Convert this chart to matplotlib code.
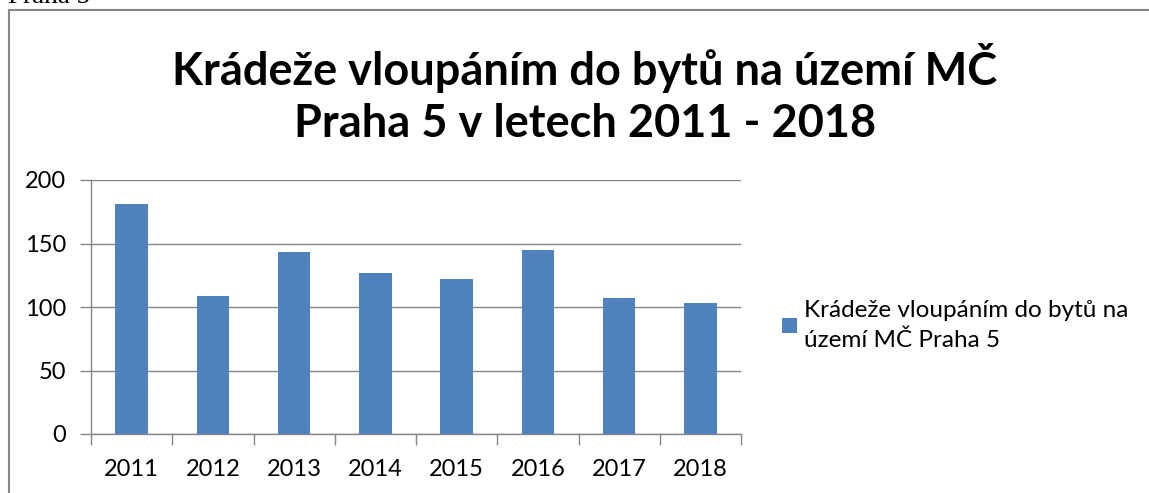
import matplotlib.pyplot as plt
import numpy as np
from matplotlib.patches import Rectangle

# Data
years = ['2011', '2012', '2013', '2014', '2015', '2016', '2017', '2018']
counts = [181, 109, 143, 127, 122, 145, 107, 103]
series_name = 'Krádeže vloupáním do bytů na\núzemí MČ Praha 5'
title = 'Krádeže vloupáním do bytů na území MČ\nPraha 5 v letech 2011 - 2018'

W, H = 1149, 493
fig = plt.figure(figsize=(W / 100, H / 100), dpi=100)

grey = '#868686'
blue = '#4F81BD'
font = 'Lato'

# page text cut off at top and chart frame
fig.text(8 / W, 1 - 3 / H, 'Praha 5', family='Liberation Serif', fontsize=19.5,
         va='baseline', ha='left', color='black')
fig.add_artist(Rectangle((9 / W, -0.1), 1.2, 1 - 10 / H + 0.1,
                         transform=fig.transFigure, fill=False,
                         edgecolor=grey, linewidth=1.5))

ax = fig.add_axes([91 / W, 1 - 434 / H, (741 - 91) / W, (434 - 180) / H])
x = np.arange(len(years))
ax.bar(x, counts, width=0.4, color=blue, zorder=3, label=series_name)

ax.set_xlim(-0.5, len(years) - 0.5)
ax.set_ylim(0, 200)
ax.set_yticks([0, 50, 100, 150, 200])
ax.set_xticks(x)
ax.set_xticklabels(years)
ax.set_xticks(np.arange(-0.5, len(years)), minor=True)
ax.tick_params(axis='x', which='major', length=0, pad=18, labelsize=17)
ax.tick_params(axis='x', which='minor', length=8, color=grey, width=1)
ax.tick_params(axis='y', length=8, color=grey, width=1, pad=10, labelsize=17)
ax.yaxis.grid(True, color=grey, linewidth=1, zorder=0)
for s in ['top', 'right']:
    ax.spines[s].set_visible(False)
for s in ['left', 'bottom']:
    ax.spines[s].set_color(grey)
    ax.spines[s].set_linewidth(1)
for lab in ax.get_xticklabels() + ax.get_yticklabels():
    lab.set_family(font)

fig.text(0.509, 1 - 94 / H, title, ha='center', va='center',
         fontsize=32.5, fontweight='bold', family=font, linespacing=1.3)

leg = ax.legend(loc='upper left', bbox_to_anchor=(782 / W, 1 - 300 / H),
                bbox_transform=fig.transFigure, frameon=False,
                prop={'family': font, 'size': 17.5},
                handlelength=0.6, handleheight=0.6, handletextpad=0.3,
                borderaxespad=0, borderpad=0)
for t in leg.get_texts():
    t.set_linespacing(1.5)

fig.savefig('out.png', dpi=100)
